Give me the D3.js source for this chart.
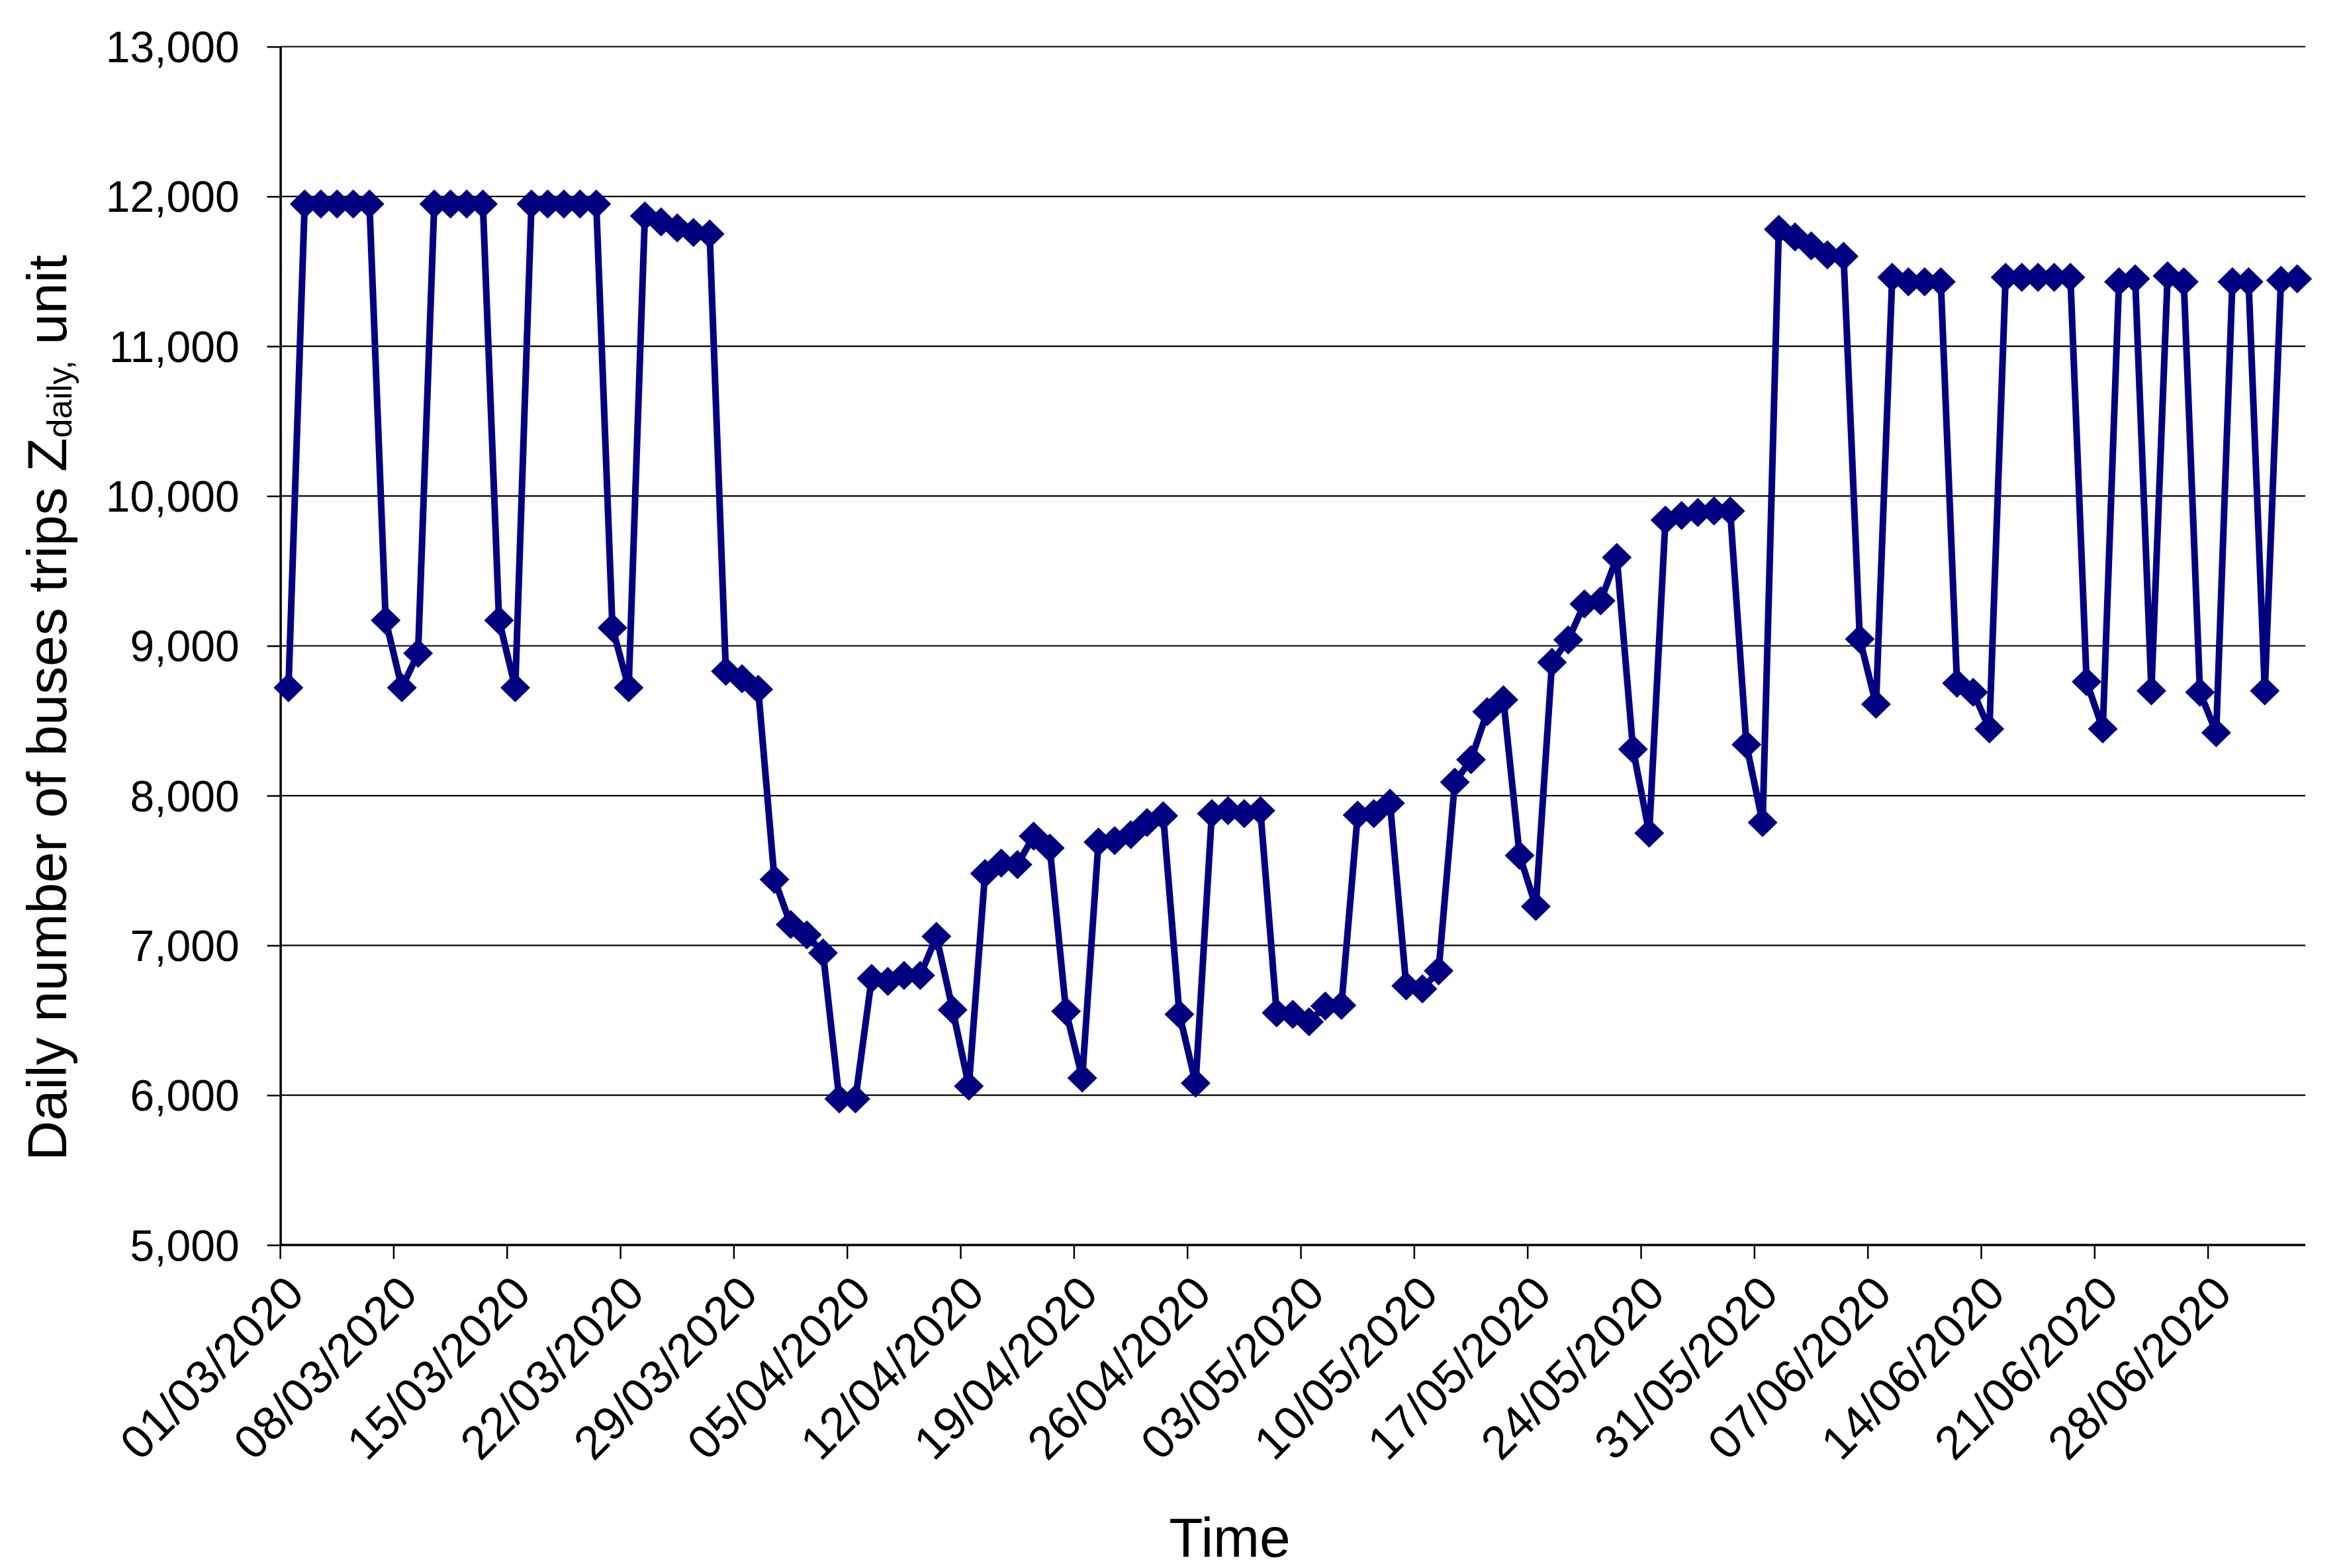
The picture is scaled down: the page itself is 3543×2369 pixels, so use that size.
<!DOCTYPE html>
<html>
<head>
<meta charset="utf-8">
<script src="https://cdn.jsdelivr.net/npm/d3@7"></script>
<style>
  html, body { margin: 0; padding: 0; background: #ffffff; }
  svg { display: block; }
  text { font-family: "Liberation Sans", Arial, sans-serif; fill: #000; }
</style>
</head>
<body>
<script>
// ---------- data ----------
const startDate = new Date(2020, 2, 1);
const endDate = new Date(2020, 6, 4); // exclusive -> 125 daily categories (01/03 .. 03/07)
const categories = d3.timeDay.range(startDate, endDate);

const tripsDaily = [
  8720, 11950, 11950, 11950, 11950, 11950, 9170, 8720, 8950, 11950,
  11950, 11950, 11950, 9170, 8720, 11950, 11950, 11950, 11950, 11950,
  9120, 8720, 11870, 11830, 11790, 11760, 11750, 8830, 8780, 8710,
  7440, 7140, 7070, 6950, 5975, 5975, 6780, 6760, 6800, 6800,
  7060, 6570, 6060, 7480, 7550, 7540, 7730, 7650, 6560, 6115,
  7690, 7700, 7740, 7820, 7865, 6540, 6080, 7880, 7900, 7880,
  7900, 6550, 6540, 6490, 6595, 6600, 7870, 7880, 7950, 6730,
  6710, 6830, 8090, 8240, 8560, 8640, 7600, 7260, 8890, 9040,
  9280, 9300, 9590, 8310, 7750, 9840, 9870, 9890, 9900, 9900,
  8340, 7820, 11780, 11730, 11670, 11610, 11600, 9045, 8610, 11460,
  11430, 11430, 11430, 8750, 8690, 8445, 11460, 11460, 11460, 11460,
  11460, 8760, 8445, 11430, 11450, 8700, 11470, 11430, 8690, 8420,
  11430, 11430, 8700, 11440, 11450
];

const yTicks = [5000, 6000, 7000, 8000, 9000, 10000, 11000, 12000, 13000];
const xTickLabels = [
  "01/03/2020", "08/03/2020", "15/03/2020", "22/03/2020", "29/03/2020",
  "05/04/2020", "12/04/2020", "19/04/2020", "26/04/2020", "03/05/2020",
  "10/05/2020", "17/05/2020", "24/05/2020", "31/05/2020", "07/06/2020",
  "14/06/2020", "21/06/2020", "28/06/2020"
];
const tickEvery = 7;

// ---------- layout ----------
const W = 3543, H = 2369;
const plot = { left: 423.6, right: 3483, top: 70.5, bottom: 1881 };

const svg = d3.select("body").append("svg")
  .attr("width", W).attr("height", H)
  .attr("viewBox", `0 0 ${W} ${H}`);
svg.append("rect").attr("width", W).attr("height", H).attr("fill", "#fff");

const x = d3.scaleBand()
  .domain(d3.range(categories.length))
  .range([plot.left, plot.right])
  .padding(0);
const bw = x.bandwidth();
const cx = i => x(i) + bw / 2;

const y = d3.scaleLinear()
  .domain([5000, 13000])
  .range([plot.bottom, plot.top]);

// gridlines
svg.append("g")
  .selectAll("line")
  .data(yTicks.filter(v => v > 5000))
  .join("line")
  .attr("x1", plot.left).attr("x2", plot.right)
  .attr("y1", d => y(d)).attr("y2", d => y(d))
  .attr("stroke", "#000").attr("stroke-width", 2.2);

// y axis
const yAxis = d3.axisLeft(y)
  .tickValues(yTicks)
  .tickFormat(d3.format(","))
  .tickSize(20)
  .tickSizeOuter(0)
  .tickPadding(42);
const gy = svg.append("g")
  .attr("transform", `translate(${plot.left},0)`)
  .call(yAxis);
gy.select(".domain").attr("stroke", "#000").attr("stroke-width", 3.5);
gy.selectAll(".tick line").attr("stroke", "#000").attr("stroke-width", 2.5);
gy.selectAll(".tick text")
  .attr("font-size", 66)
  .attr("font-family", "Liberation Sans, Arial, sans-serif")
  .attr("fill", "#000")
  .attr("dy", "0.35em");

// x axis (category axis, ticks between categories every 7 days)
const gx = svg.append("g");
gx.append("line")
  .attr("x1", plot.left).attr("x2", plot.right)
  .attr("y1", plot.bottom).attr("y2", plot.bottom)
  .attr("stroke", "#000").attr("stroke-width", 3.5);
const tickIdx = d3.range(0, categories.length, tickEvery);
gx.selectAll("line.tick")
  .data(tickIdx)
  .join("line")
  .attr("class", "tick")
  .attr("x1", d => x(d)).attr("x2", d => x(d))
  .attr("y1", plot.bottom).attr("y2", plot.bottom + 21)
  .attr("stroke", "#000").attr("stroke-width", 2.5);
gx.selectAll("text")
  .data(tickIdx)
  .join("text")
  .attr("transform", d => `translate(${cx(d) + 27},${plot.bottom + 77}) rotate(-45)`)
  .attr("text-anchor", "end")
  .attr("font-size", 71)
  .text((d, i) => xTickLabels[i]);

// series line
const line = d3.line()
  .x((d, i) => cx(i))
  .y(d => y(d));
svg.append("path")
  .datum(tripsDaily)
  .attr("d", line)
  .attr("fill", "none")
  .attr("stroke", "#000080")
  .attr("stroke-width", 10)
  .attr("stroke-linejoin", "round");

// diamond markers
const mw = 22.5, mh = 22;
const diamond = (() => {
  const p = d3.path();
  p.moveTo(0, -mh); p.lineTo(mw, 0); p.lineTo(0, mh); p.lineTo(-mw, 0); p.closePath();
  return p.toString();
})();
svg.append("g")
  .selectAll("path")
  .data(tripsDaily)
  .join("path")
  .attr("d", diamond)
  .attr("transform", (d, i) => `translate(${cx(i)},${y(d)})`)
  .attr("fill", "#000080");

// axis titles
svg.append("text")
  .attr("x", 1858).attr("y", 2352)
  .attr("text-anchor", "middle")
  .attr("font-size", 84)
  .text("Time");

const yt = svg.append("text")
  .attr("transform", "translate(100,1754) rotate(-90)")
  .attr("text-anchor", "start")
  .attr("font-size", 84);
yt.append("tspan").text("Daily number of buses trips Z");
yt.append("tspan").attr("font-size", 52).attr("dy", 8).text("daily");
yt.append("tspan").attr("font-size", 52).text(",");
yt.append("tspan").attr("dy", -8).text(" unit");
</script>
</body>
</html>
